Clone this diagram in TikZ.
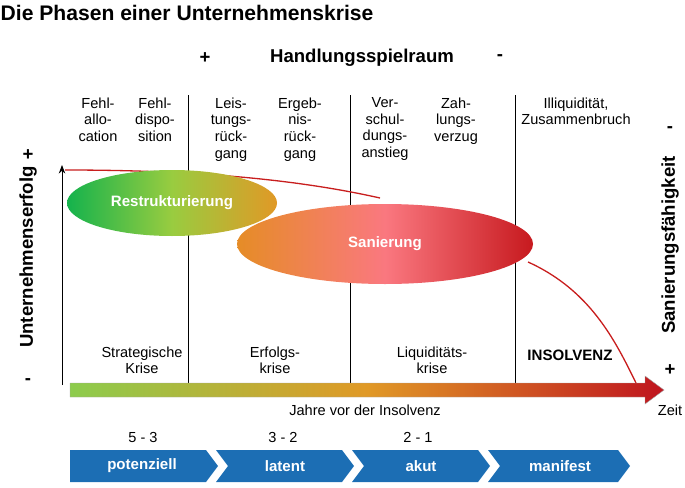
\documentclass[tikz,border=0pt]{standalone}
\usepackage{fontspec}
\setmainfont{Liberation Sans}
\usetikzlibrary{arrows.meta}
\definecolor{chevblue}{RGB}{28,110,180}
\definecolor{curvered}{RGB}{200,30,30}
\pgfdeclarehorizontalshading{timebar}{100bp}{rgb(0bp)=(0.55,0.8,0.3); rgb(25bp)=(0.55,0.8,0.3); rgb(50bp)=(0.88,0.6,0.15); rgb(75bp)=(0.75,0.08,0.12); rgb(100bp)=(0.75,0.08,0.12)}
\pgfdeclarehorizontalshading{sanshade}{100bp}{rgb(0bp)=(0.9,0.55,0.15); rgb(25bp)=(0.9,0.55,0.15); rgb(50bp)=(0.98,0.47,0.5); rgb(75bp)=(0.78,0.1,0.12); rgb(100bp)=(0.78,0.1,0.12)}
\pgfdeclarehorizontalshading{resshade}{100bp}{rgb(0bp)=(0.08,0.7,0.3); rgb(25bp)=(0.08,0.7,0.3); rgb(50bp)=(0.6,0.8,0.25); rgb(75bp)=(0.88,0.6,0.15); rgb(100bp)=(0.88,0.6,0.15)}
\begin{document}
\begin{tikzpicture}[x=0.35mm,y=-0.35mm,
col/.style = {align=center,font=\fontsize{14.5}{16.5}\selectfont,anchor=north},
bold/.style = {font=\fontsize{18.5}{21}\selectfont\bfseries},
chevtext/.style = {text=white,font=\fontsize{15}{17}\selectfont\bfseries},
thick]
\useasboundingbox (0,0) rectangle (685,488);
\node[anchor=west,font=\fontsize{21}{23}\selectfont\bfseries] (title) at (-3,13) {Die Phasen einer Unternehmenskrise};
\node[bold] (plus) at (205,58) {+};
\node[bold] (hsr) at (362,58) {Handlungsspielraum};
\node[bold] (minus) at (500,58) {-};
% columns
\node[col] (fa) at (98,94) {Fehl-\\allo-\\cation};
\node[col] (fd) at (155,94) {Fehl-\\dispo-\\sition};
\node[col] (lr) at (231,94) {Leis-\\tungs-\\rück-\\gang};
\node[col] (er) at (300,94) {Ergeb-\\nis-\\rück-\\gang};
\node[col] (va) at (385,94) {Ver-\\schul-\\dungs-\\anstieg};
\node[col] (zv) at (456,94) {Zah-\\lungs-\\verzug};
\node[col] (iz) at (576,94) {Illiquidität,\\Zusammenbruch};
\draw (188,95) -- (188,385);
\draw (350,95) -- (350,385);
\draw (515,95) -- (515,385);
\draw[-{Stealth[length=3mm]}] (62,385) -- (62,165);
% red curve
\draw[curvered,line width=1.3pt] (65,170) .. controls (200,170) and (300,180) .. (380,198);
\draw[curvered,line width=1.3pt] (528,262) .. controls (590,290) and (615,340) .. (636,383);
% ellipses
\shade[shading=resshade] (172,203) ellipse [x radius=105,y radius=33];
\node[chevtext] (restr) at (172,203) {Restrukturierung};
\shade[shading=sanshade] (385,244) ellipse [x radius=148,y radius=40];
\node[chevtext] (san) at (385,244) {Sanierung};
% crisis names
\node[col] (sk) at (142,343) {Strategische\\Krise};
\node[col] (ek) at (275,343) {Erfolgs-\\krise};
\node[col] (lk) at (432,343) {Liquiditäts-\\krise};
\node[font=\fontsize{15}{17}\selectfont\bfseries] (ins) at (570,355) {INSOLVENZ};
% time bar
\shade[shading=timebar,draw=gray!70,thin]
  (70,383) -- (645,383) -- (645,376) -- (664,390) -- (645,404) -- (645,397) -- (70,397) -- cycle;
\node[font=\fontsize{14.5}{16}\selectfont] (jahre) at (365,410) {Jahre vor der Insolvenz};
\node[font=\fontsize{14.5}{16}\selectfont] (zeit) at (670,410) {Zeit};
\node[font=\fontsize{14.5}{16}\selectfont] (n53) at (143,437) {5 - 3};
\node[font=\fontsize{14.5}{16}\selectfont] (n32) at (283,437) {3 - 2};
\node[font=\fontsize{14.5}{16}\selectfont] (n21) at (418,437) {2 - 1};
% phases
\fill[chevblue] (70,450) -- (206,450) -- (218,466) -- (206,482) -- (70,482) -- cycle;
\fill[chevblue] (216,450) -- (342,450) -- (354,466) -- (342,482) -- (216,482) -- (228,466) -- cycle;
\fill[chevblue] (352,450) -- (478,450) -- (490,466) -- (478,482) -- (352,482) -- (364,466) -- cycle;
\fill[chevblue] (488,450) -- (618,450) -- (630,466) -- (618,482) -- (488,482) -- (500,466) -- cycle;
\node[chevtext] (pot) at (142,466) {potenziell};
\node[chevtext] (lat) at (285,466) {latent};
\node[chevtext] (akut) at (421,466) {akut};
\node[chevtext] (man) at (560,466) {manifest};
% axis labels
\node[bold] (lplus) at (28,155) {+};
\node[bold,rotate=90] (ue) at (28,257) {Unternehmenserfolg};
\node[bold] (lminus) at (28,382) {-};
\node[bold] (rminus) at (670,130) {-};
\node[bold,rotate=90] (sf) at (670,245) {Sanierungsfähigkeit};
\node[bold] (rplus) at (670,370) {+};
\end{tikzpicture}
\end{document}
